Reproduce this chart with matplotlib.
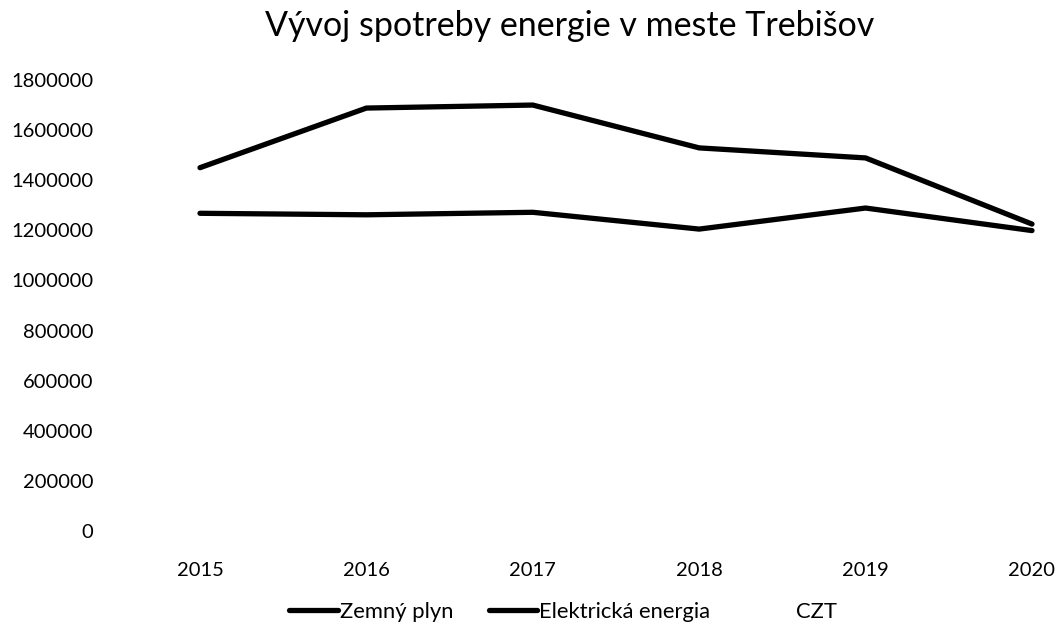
import numpy as np
import matplotlib
matplotlib.use("Agg")
import matplotlib.pyplot as plt

plt.rcParams['font.family'] = ['Lato', 'DejaVu Sans']

years = [2015, 2016, 2017, 2018, 2019, 2020]
zemny_plyn = [1450000, 1688000, 1700000, 1529000, 1489000, 1225000]
elektricka_energia = [1268000, 1262000, 1272000, 1205000, 1289000, 1199000]
czt = [np.nan] * 6  # no visible data in the source chart
y_ticks = [0, 200000, 400000, 600000, 800000, 1000000, 1200000, 1400000, 1600000, 1800000]

W, H = 1058, 627
fig = plt.figure(figsize=(W / 100, H / 100), dpi=100)
# axes placed in pixel coordinates of the reference
left, right, top, bottom = 100, 1040, 80, 531
ax = fig.add_axes([left / W, 1 - bottom / H, (right - left) / W, (bottom - top) / H])

ax.plot(years, zemny_plyn, color='black', lw=3.8, solid_capstyle='round',
        solid_joinstyle='round', clip_on=False, label='Zemný plyn')
ax.plot(years, elektricka_energia, color='black', lw=3.8, solid_capstyle='round',
        solid_joinstyle='round', clip_on=False, label='Elektrická energia')
ax.plot(years, czt, color='white', lw=3.8, label='CZT')

ax.set_xlim(2015 - 100 / 166.4, 2020 + 8 / 166.4)
ax.set_ylim(0, 1800000)
ax.set_xticks(years)
ax.set_yticks(y_ticks)
ax.set_yticklabels([str(v) for v in y_ticks])
ax.tick_params(axis='both', length=0, labelsize=14.5)
ax.tick_params(axis='y', pad=5)
ax.tick_params(axis='x', pad=22)
for s in ax.spines.values():
    s.set_visible(False)

fig.text((left + right) / 2 / W, 1 - 26 / H, 'Vývoj spotreby energie v meste Trebišov',
         ha='center', va='center', fontsize=24.5)

fig.legend(loc='center', bbox_to_anchor=(563 / W, 1 - 612 / H), ncol=3, frameon=False,
           fontsize=15.8, handlelength=2.2, handletextpad=0.1, columnspacing=1.6)

fig.savefig('out.png', dpi=100)
